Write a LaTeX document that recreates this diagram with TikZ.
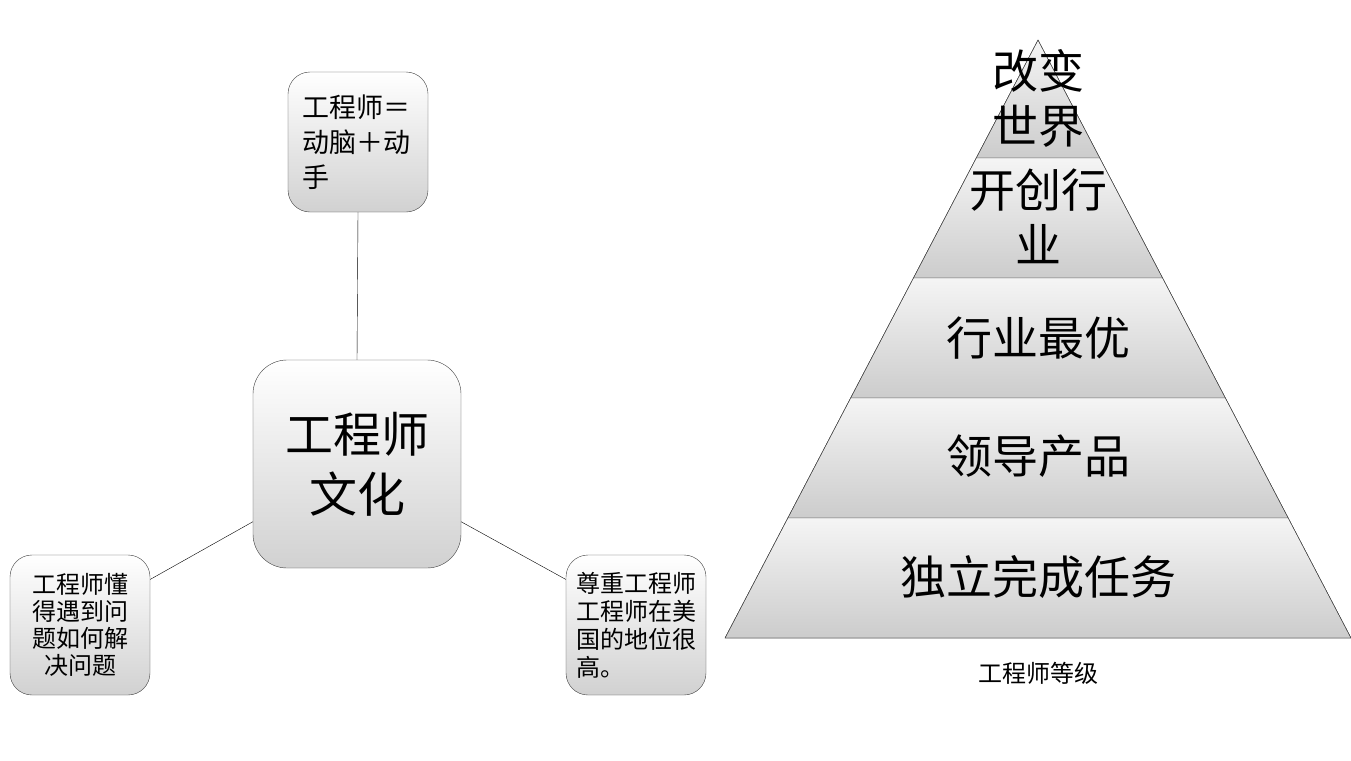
\documentclass[tikz,border=0pt]{standalone}
\usepackage{fontspec}
\setmainfont{Noto Sans CJK SC}
\usepackage{tikz}

\begin{document}
\begin{tikzpicture}[x=1pt,y=-1pt,
    hub/.style={draw=black!75,rounded corners=34pt,top color=white,bottom color=black!18,minimum width=208pt,minimum height=208pt,align=center,font=\fontsize{48}{60}\selectfont},
    leaf/.style={draw=black!75,rounded corners=22pt,top color=white,bottom color=black!18,minimum width=140pt,minimum height=140pt,inner xsep=10pt,text width=120pt},
    layer/.style={draw=black!70,top color=black!4,bottom color=black!20},
    tier/.style={align=center,font=\fontsize{46}{55}\selectfont}]
  \useasboundingbox (0,0) rectangle (1351,760);
  % left: culture map
  \node[hub] (culture) at (357,464) {工程师\\文化};
  \node[leaf,inner xsep=14pt,text width=112pt,align=left,font=\fontsize{27}{35}\selectfont] (brainhand) at (358,142) {工程师＝\\动脑＋动\\手};
  \node[leaf,align=center,font=\fontsize{24}{27}\selectfont] (solve) at (80,625) {工程师懂\\得遇到问\\题如何解\\决问题};
  \node[leaf,align=left,font=\fontsize{24}{28}\selectfont] (respect) at (636,625) {尊重工程师\\工程师在美\\国的地位很\\高。};
  \draw (brainhand.south) -- (culture.north);
  \draw (culture.209.6) -- (solve.33);
  \draw (culture.-29.6) -- (respect.147);
  % right: pyramid of levels
  \coordinate (apex) at (1038,40);
  \fill[layer] (apex) -- (1099.8,158) -- (976.2,158) -- cycle;
  \fill[layer] (976.2,158) -- (1099.8,158) -- (1162.6,278) -- (913.4,278) -- cycle;
  \fill[layer] (913.4,278) -- (1162.6,278) -- (1225.4,398) -- (850.6,398) -- cycle;
  \fill[layer] (850.6,398) -- (1225.4,398) -- (1288.2,518) -- (787.8,518) -- cycle;
  \fill[layer] (787.8,518) -- (1288.2,518) -- (1351,638) -- (725,638) -- cycle;
  \draw[black!70] (apex) -- (725,638) -- (1351,638) -- cycle;
  \node[tier] (world) at (1038,98) {改变\\世界};
  \node[tier] (create) at (1038,216) {开创行\\业};
  \node[tier] (best) at (1038,338) {行业最优};
  \node[tier] (lead) at (1038,456) {领导产品};
  \node[tier] (alone) at (1038,577) {独立完成任务};
  \node[font=\fontsize{24}{28}\selectfont] (levels) at (1038,673) {工程师等级};
\end{tikzpicture}
\end{document}
